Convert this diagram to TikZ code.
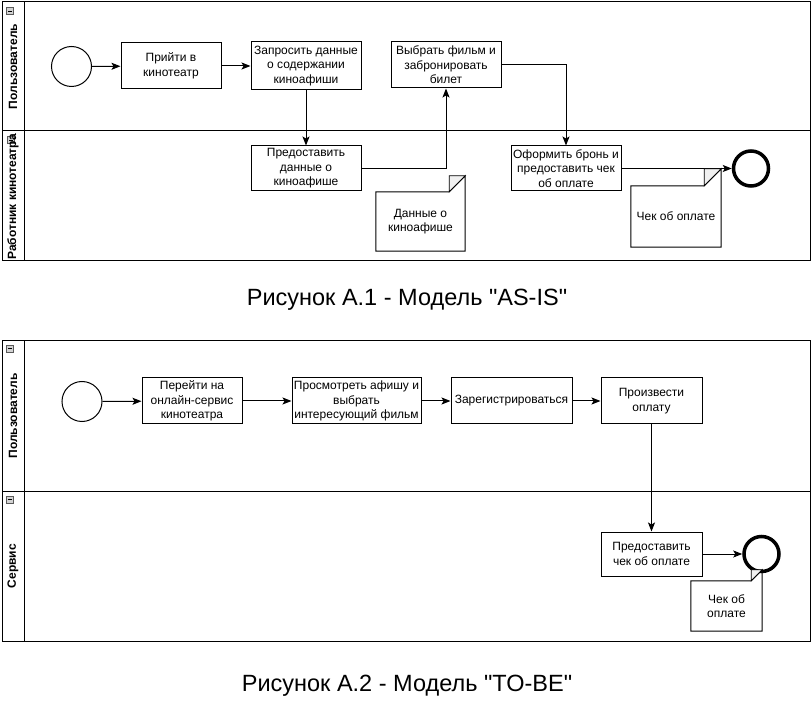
\documentclass[tikz,border=0pt]{standalone}
\usepackage{fontspec}
\setmainfont{Liberation Sans}
\newfontfamily\qfont{Liberation Sans}
\usetikzlibrary{arrows.meta}
\begin{document}
\begin{tikzpicture}[x=1pt,y=-1pt,
  every node/.style={font=\fontsize{12}{14.5}\selectfont},
  task/.style={draw, line width=1pt, inner sep=0pt, align=center},
  notebox/.style={inner sep=0pt, align=center},
  lanelbl/.style={rotate=90, font=\fontsize{12}{14}\selectfont\bfseries},
  startev/.style={draw, circle, line width=1pt, minimum size=40pt, inner sep=0pt},
  endev/.style={draw, circle, line width=3.5pt, minimum size=35pt, inner sep=0pt},
  flow/.style={line width=1pt, -{Stealth[length=9pt,width=7pt,inset=2pt]}},
  pool/.style={draw, line width=1pt},
  title/.style={font=\qfont\fontsize{23.5}{28}\selectfont}
]
\useasboundingbox (0,0) rectangle (812,703);

% ---------- Pool 1 ----------
\draw[pool] (2,2) rectangle (810,261);
\draw[pool] (24,2) -- (24,261);
\draw[pool] (2,131) -- (810,131);
\foreach \cx/\cy in {10/11, 11/140}{
  \draw[fill=gray!35, draw=gray!70!black, line width=0.6pt] (\cx-3.5,\cy-3.5) rectangle (\cx+3.5,\cy+3.5);
  \draw[line width=0.8pt] (\cx-2,\cy) -- (\cx+2,\cy);
}
\node[lanelbl] (l1) at (13,66.5) {Пользователь};
\node[lanelbl] (l2) at (13,197) {Работник кинотеатра};

\node[startev] (s1) at (71.5,66.5) {};
\node[task, minimum width=100pt, minimum height=46pt] (a1) at (171,66) {Прийти в\\кинотеатр};
\node[task, minimum width=110pt, minimum height=48pt] (a2) at (306,66) {Запросить данные\\о содержании\\киноафиши};
\node[task, minimum width=110pt, minimum height=46pt] (a3) at (446,65) {Выбрать фильм и\\забронировать\\билет};
\node[task, minimum width=110pt, minimum height=45pt] (a4) at (306,168.5) {Предоставить\\данные о\\киноафише};
\node[task, minimum width=110pt, minimum height=45pt] (a5) at (566,168.5) {Оформить бронь и\\предоставить чек\\об оплате};
\node[endev] (e1) at (751,168.5) {};

\node[notebox, minimum width=89pt, minimum height=59pt] (n1) at (420.5,221.5) {Данные о\\киноафише};
\node[notebox, minimum width=90pt, minimum height=61pt] (n2) at (676,216.5) {Чек об оплате};

\draw[flow] (s1) -- (a1);
\draw[flow] (a1) -- (a2);
\draw[flow] (a2) -- (a4);
\draw[flow] (a4.east) -| (a3.south);
\draw[flow] (a3.east) -| (a5.north);
\draw[flow] (a5) -- (e1);

% ---------- Pool 2 ----------
\draw[pool] (2,341) rectangle (810,641);
\draw[pool] (24,341) -- (24,641);
\draw[pool] (2,491) -- (810,491);
\foreach \cx/\cy in {10/348.5, 10/499.5}{
  \draw[fill=gray!35, draw=gray!70!black, line width=0.6pt] (\cx-3.5,\cy-3.5) rectangle (\cx+3.5,\cy+3.5);
  \draw[line width=0.8pt] (\cx-2,\cy) -- (\cx+2,\cy);
}
\node[lanelbl] (l3) at (13,416) {Пользователь};
\node[lanelbl] (l4) at (13,566) {Сервис};

\node[startev] (s2) at (82,401.5) {};
\node[task, minimum width=100pt, minimum height=46pt] (b1) at (192,401) {Перейти на\\онлайн-сервис\\кинотеатра};
\node[task, minimum width=129pt, minimum height=46pt] (b2) at (356.5,401) {Просмотреть афишу и\\выбрать\\интересующий фильм};
\node[task, minimum width=121pt, minimum height=46pt] (b3) at (511.5,401) {Зарегистрироваться};
\node[task, minimum width=101pt, minimum height=46pt] (b4) at (651.5,401) {Произвести\\оплату};
\node[task, minimum width=101pt, minimum height=44pt] (b5) at (651.5,554) {Предоставить\\чек об оплате};
\node[endev] (e2) at (761.5,554) {};
\node[notebox, minimum width=71pt, minimum height=50pt] (n3) at (726.5,606) {Чек об\\оплате};

\draw[flow] (s2) -- (b1);
\draw[flow] (b1) -- (b2);
\draw[flow] (b2) -- (b3);
\draw[flow] (b3) -- (b4);
\draw[flow] (b4) -- (b5);
\draw[flow] (b5) -- (e2);

% ---------- note outlines ----------
\foreach \n/\f in {n1/16, n2/17, n3/11}{
  \draw[line width=1pt, line join=miter] (\n.north west) -- ([xshift=-\f pt]\n.north east) -- ([yshift=\f pt]\n.north east) -- (\n.south east) -- (\n.south west) -- cycle;
  \draw[line width=0.8pt, fill=gray!12] ([xshift=-\f pt]\n.north east) -- ([xshift=-\f pt, yshift=\f pt]\n.north east) -- ([yshift=\f pt]\n.north east) -- cycle;
}

% ---------- titles ----------
\node[title] (t1) at (407,300) {Рисунок А.1 - Модель "AS-IS"};
\node[title] (t2) at (407,686) {Рисунок А.2 - Модель "TO-BE"};
\end{tikzpicture}
\end{document}
